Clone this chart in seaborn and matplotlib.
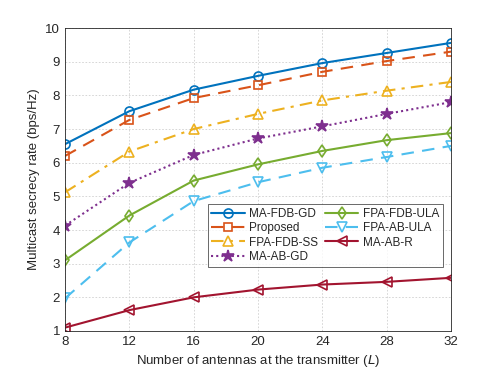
import matplotlib
matplotlib.use("Agg")
import matplotlib.pyplot as plt
import seaborn as sns
import pandas as pd

antennas = [8, 12, 16, 20, 24, 28, 32]
ma_fdb_gd = [6.55, 7.53, 8.17, 8.58, 8.96, 9.26, 9.56]
proposed = [6.20, 7.27, 7.92, 8.30, 8.70, 9.02, 9.30]
fpa_fdb_ss = [5.12, 6.33, 7.00, 7.45, 7.85, 8.14, 8.40]
ma_ab_gd = [4.13, 5.40, 6.23, 6.72, 7.08, 7.45, 7.80]
fpa_fdb_ula = [3.10, 4.43, 5.47, 5.95, 6.35, 6.67, 6.88]
fpa_ab_ula = [1.97, 3.63, 4.86, 5.42, 5.85, 6.17, 6.50]
ma_ab_r = [1.10, 1.62, 2.00, 2.23, 2.38, 2.46, 2.58]

names = ["MA-FDB-GD", "Proposed", "FPA-FDB-SS", "MA-AB-GD",
         "FPA-FDB-ULA", "FPA-AB-ULA", "MA-AB-R"]
series = [ma_fdb_gd, proposed, fpa_fdb_ss, ma_ab_gd, fpa_fdb_ula, fpa_ab_ula, ma_ab_r]
colors = ["#0072BD", "#D95319", "#EDB120", "#7E2F8E", "#77AC30", "#4DBEEE", "#A2142F"]
linestyles = ["-", (0, (6, 4)), (0, (6, 3, 1.5, 3)), (0, (1, 1.5)), "-", (0, (6, 4)), "-"]
markers = ["o", "s", "^", "*", "d", "v", "<"]
msizes = [6.5, 5.5, 6.5, 9, 6.5, 6.5, 6.5]
filled = [False, False, False, True, False, False, False]

sns.set_style("white")
plt.rcParams['font.family'] = ['Liberation Sans', 'DejaVu Sans']

fig = plt.figure(figsize=(4.98, 3.74), dpi=100)
ax = fig.add_axes([0.1305, 0.115, 0.7755, 0.81])

for name, vals, c, ls, m, ms, f in zip(names, series, colors, linestyles, markers, msizes, filled):
    df = pd.DataFrame({"L": antennas, "rate": vals})
    sns.lineplot(data=df, x="L", y="rate", ax=ax, color=c, linestyle=ls,
                 marker=m, markersize=ms, markerfacecolor=(c if f else "none"),
                 markeredgecolor=c, markeredgewidth=1.2, linewidth=1.5,
                 label=name)

ax.set_xlim(8, 32)
ax.set_ylim(1, 10)
ax.set_xticks(antennas)
ax.set_yticks(range(1, 11))
ax.grid(True, color="#d0d0d0", linestyle=(0, (2, 2)), linewidth=0.6)
for s in ax.spines.values():
    s.set_color("#262626")
    s.set_linewidth(0.6)
ax.tick_params(direction="in", length=3, labelsize=9.5, colors="#262626", width=0.6)
ax.set_xlabel("Number of antennas at the transmitter ($\\it{L}$)", fontsize=9.5, color="#262626")
ax.set_ylabel("Multicast secrecy rate (bps/Hz)", fontsize=9.5, color="#262626")

leg = ax.legend(ncol=2, loc="lower right", bbox_to_anchor=(0.985, 0.205),
                fontsize=8.5, frameon=True, fancybox=False, edgecolor="#262626",
                handlelength=2.8, columnspacing=0.6, labelspacing=0.2,
                borderpad=0.3, handletextpad=0.4, borderaxespad=0.2)
leg.get_frame().set_linewidth(0.6)

fig.savefig("out.png", dpi=100)
